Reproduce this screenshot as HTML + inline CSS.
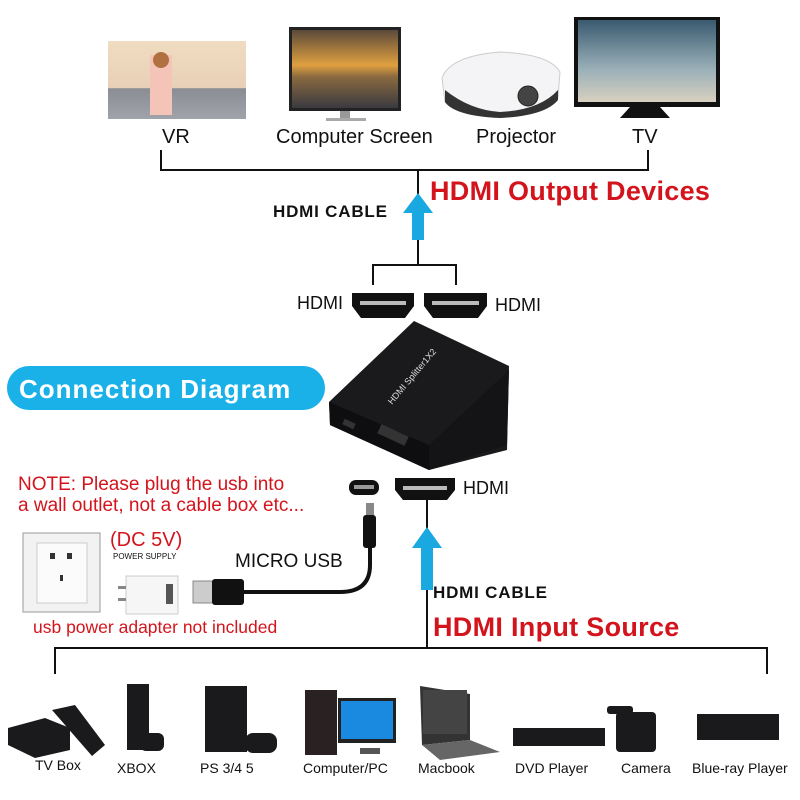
<!DOCTYPE html>
<html><head><meta charset="utf-8"><style>
html,body{margin:0;padding:0;background:#fff;}
svg{display:block;font-family:"Liberation Sans",Arial,sans-serif;}
</style></head><body>
<svg width="800" height="800" viewBox="0 0 800 800" xmlns="http://www.w3.org/2000/svg">
<defs>
<linearGradient id="sun" x1="0" y1="0" x2="0" y2="1"><stop offset="0" stop-color="#5a4a3a"/><stop offset="0.45" stop-color="#e0a040"/><stop offset="0.6" stop-color="#8a6a40"/><stop offset="1" stop-color="#3a3a40"/></linearGradient>
<linearGradient id="tvs" x1="0" y1="0" x2="0" y2="1"><stop offset="0" stop-color="#3a5a70"/><stop offset="0.6" stop-color="#9ab0b8"/><stop offset="1" stop-color="#d8d0c0"/></linearGradient>
<linearGradient id="vr" x1="0" y1="0" x2="0" y2="1"><stop offset="0" stop-color="#f0dcc0"/><stop offset="0.6" stop-color="#e8d0b8"/><stop offset="0.61" stop-color="#8a8e94"/><stop offset="1" stop-color="#a0a4aa"/></linearGradient>
</defs>
<rect x="108" y="41" width="138" height="78" fill="url(#vr)"/>
<rect x="150" y="55" width="22" height="60" fill="#f4c4b8"/>
<circle cx="161" cy="60" r="8" fill="#b07040"/>
<rect x="289" y="27" width="112" height="84" fill="#222"/>
<rect x="292" y="30" width="106" height="78" fill="url(#sun)"/>
<rect x="340" y="111" width="10" height="8" fill="#999"/>
<rect x="326" y="118" width="40" height="3" fill="#aaa"/>
<path d="M442 78 Q450 56 500 52 Q550 54 560 72 L558 98 Q545 115 500 117 Q455 115 445 102 Z" fill="#f4f4f6" stroke="#ccc"/>
<path d="M445 90 Q470 110 500 112 Q540 110 558 90 L558 100 Q545 116 500 118 Q455 116 445 102 Z" fill="#333"/>
<circle cx="528" cy="96" r="10" fill="#444" stroke="#222"/>
<rect x="574" y="17" width="146" height="90" fill="#111"/>
<rect x="578" y="20" width="138" height="82" fill="url(#tvs)"/>
<path d="M630 107 L660 107 L670 118 L620 118 Z" fill="#111"/>
<g font-size="20" fill="#111">
<text x="162" y="143">VR</text>
<text x="276" y="143">Computer Screen</text>
<text x="476" y="143">Projector</text>
<text x="632" y="143">TV</text>
</g>
<g stroke="#111" stroke-width="2" fill="none">
<path d="M161 150 V170 H648 V150"/>
<path d="M418 170 V265"/>
<path d="M373 285 V265 H456 V285"/>
</g>
<path d="M418 193 L433 213 L424 213 L424 240 L412 240 L412 213 L403 213 Z" fill="#1aa8e0"/>
<text x="273" y="217" font-size="17" font-weight="bold" fill="#111" letter-spacing="0.8">HDMI CABLE</text>
<text x="430" y="200" font-size="27" font-weight="bold" fill="#d4141c" letter-spacing="0.3">HDMI Output Devices</text>
<g fill="#111">
<path d="M352 293 H414 V306 L405 318 H361 L352 306 Z"/>
<path d="M424 293 H487 V306 L478 318 H433 L424 306 Z"/>
</g>
<rect x="360" y="301" width="46" height="4" fill="#bbb"/>
<rect x="432" y="301" width="47" height="4" fill="#bbb"/>
<text x="297" y="309" font-size="18" fill="#111">HDMI</text>
<text x="495" y="311" font-size="18" fill="#111">HDMI</text>
<polygon points="329,402 414,321 509,366 507,450 429,470 330,425" fill="#1a1a1c"/>
<polygon points="329,402 429,445 429,470 330,425" fill="#0e0e10"/>
<polygon points="429,445 509,370 507,445 429,470" fill="#141416"/>
<text x="0" y="0" font-size="9" fill="#ddd" transform="translate(392,405) rotate(-50)">HDMI Splitter1X2</text>
<rect x="378" y="430" width="30" height="10" fill="#333" transform="rotate(25 393 435)"/>
<rect x="343" y="421" width="12" height="6" fill="#333" transform="rotate(25 349 424)"/>
<rect x="7" y="366" width="318" height="44" rx="22" fill="#1ab0e8"/>
<text x="19" y="398" font-size="26" font-weight="bold" fill="#fff" letter-spacing="1">Connection Diagram</text>
<g font-size="19" fill="#d4141c">
<text x="18" y="490">NOTE: Please plug the usb into</text>
<text x="18" y="511">a wall outlet, not a cable box etc...</text>
</g>
<rect x="349" y="480" width="30" height="15" rx="7" fill="#111"/>
<rect x="354" y="485" width="20" height="4" fill="#999"/>
<path d="M395 478 H455 V490 L447 500 H403 L395 490 Z" fill="#111"/>
<rect x="403" y="486" width="44" height="4" fill="#bbb"/>
<text x="463" y="494" font-size="18" fill="#111">HDMI</text>
<rect x="23" y="533" width="77" height="79" fill="#f2f2f2" stroke="#999"/>
<rect x="37" y="543" width="50" height="60" fill="#fbfbfb" stroke="#ccc"/>
<rect x="50" y="553" width="5" height="6" fill="#333"/><rect x="67" y="553" width="5" height="6" fill="#333"/>
<rect x="60" y="575" width="3" height="6" fill="#333"/>
<text x="110" y="546" font-size="20" fill="#d4141c">(DC 5V)</text>
<text x="113" y="559" font-size="8" fill="#111">POWER SUPPLY</text>
<rect x="126" y="576" width="52" height="38" fill="#f6f6f6" stroke="#ccc"/>
<rect x="118" y="586" width="8" height="3" fill="#888"/><rect x="118" y="598" width="8" height="3" fill="#888"/>
<rect x="166" y="584" width="7" height="20" fill="#555"/>
<rect x="193" y="581" width="20" height="22" fill="#ccc" stroke="#888"/>
<rect x="212" y="579" width="32" height="26" rx="3" fill="#111"/>
<path d="M244 592 H340 Q370 592 370 565 V540" stroke="#111" stroke-width="4" fill="none"/>
<rect x="363" y="515" width="13" height="33" rx="3" fill="#111"/>
<rect x="366" y="503" width="8" height="12" fill="#888"/>
<text x="235" y="567" font-size="19" fill="#111">MICRO USB</text>
<text x="33" y="633" font-size="17.5" fill="#d4141c">usb power adapter not included</text>
<g stroke="#111" stroke-width="2" fill="none">
<path d="M427 500 V648"/>
<path d="M55 674 V648 H767 V674"/>
</g>
<path d="M427 527 L442 548 L433 548 L433 590 L421 590 L421 548 L412 548 Z" fill="#1aa8e0"/>
<text x="433" y="598" font-size="17" font-weight="bold" fill="#111" letter-spacing="0.8">HDMI CABLE</text>
<text x="433" y="636" font-size="27" font-weight="bold" fill="#d4141c" letter-spacing="0.3">HDMI Input Source</text>
<g fill="#1a1a1c">
<polygon points="8,728 45,718 70,728 70,750 35,758 8,745"/>
<polygon points="52,710 75,705 105,745 92,756"/>
<rect x="127" y="684" width="22" height="66"/>
<rect x="140" y="733" width="24" height="18" rx="6"/>
<rect x="205" y="686" width="42" height="66"/>
<rect x="245" y="733" width="32" height="20" rx="8"/>
<rect x="305" y="690" width="32" height="65" fill="#2a2222"/>
<rect x="338" y="698" width="58" height="45" fill="#222"/>
<rect x="341" y="701" width="52" height="38" fill="#1a8ae0"/>
<rect x="360" y="748" width="20" height="6" fill="#555"/>
<polygon points="420,686 470,694 470,740 422,745" fill="#333"/>
<rect x="423" y="690" width="44" height="44" fill="#444"/>
<polygon points="422,745 470,740 500,752 440,760" fill="#666"/>
<rect x="513" y="728" width="92" height="18"/>
<rect x="616" y="712" width="40" height="40" rx="4"/>
<circle cx="628" cy="738" r="12"/>
<rect x="607" y="706" width="26" height="8" rx="3"/>
<rect x="697" y="714" width="82" height="26"/>
</g>
<g font-size="14" fill="#111">
<text x="35" y="770">TV Box</text>
<text x="117" y="773">XBOX</text>
<text x="200" y="773">PS 3/4 5</text>
<text x="303" y="773">Computer/PC</text>
<text x="418" y="773">Macbook</text>
<text x="515" y="773">DVD Player</text>
<text x="621" y="773">Camera</text>
<text x="692" y="773">Blue-ray Player</text>
</g>
</svg>
</body></html>
